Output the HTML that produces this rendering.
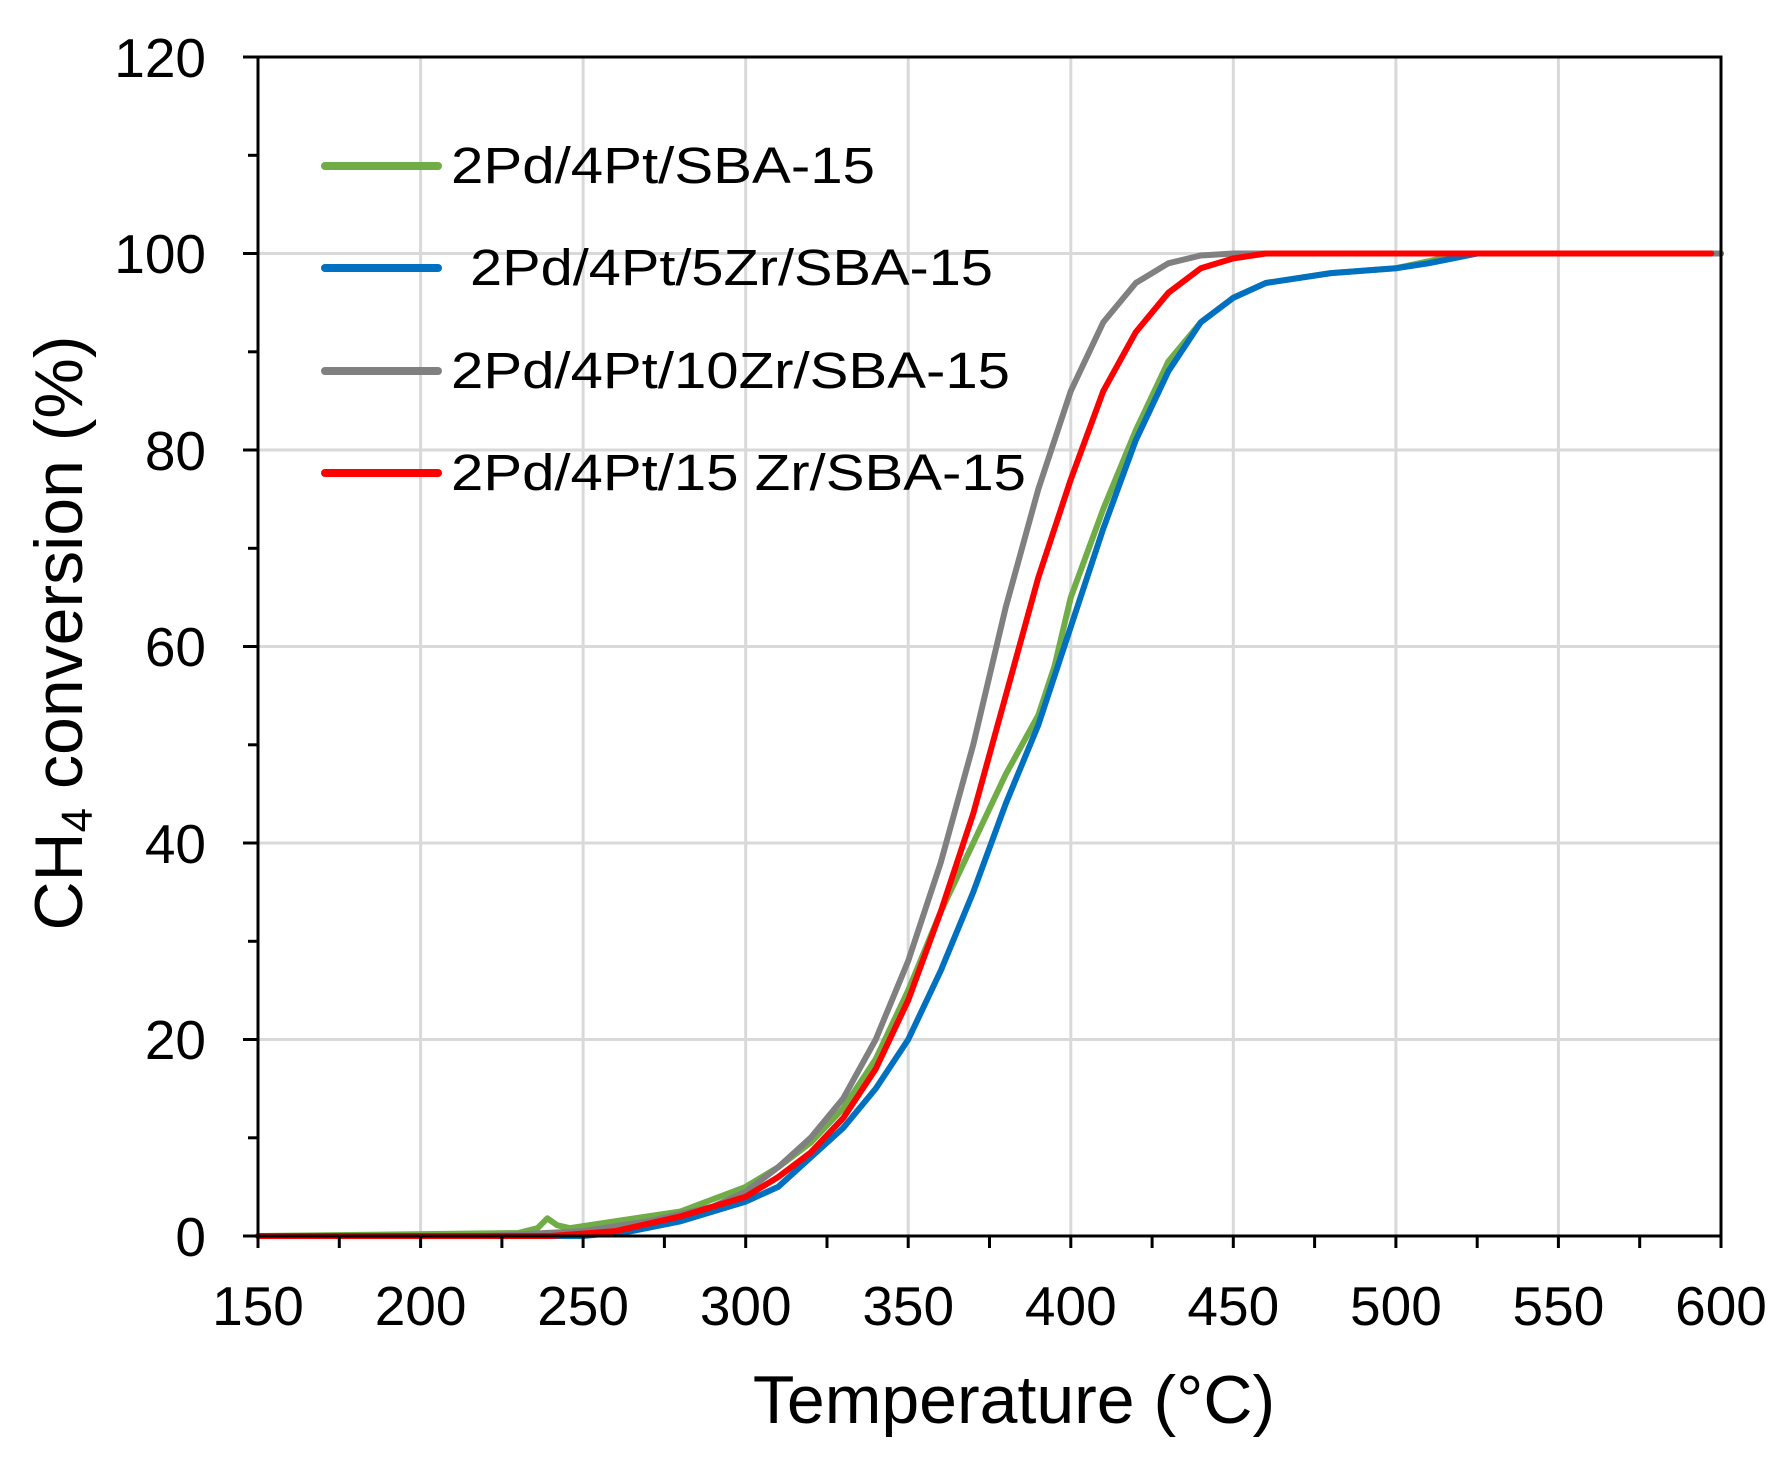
<!DOCTYPE html>
<html><head><meta charset="utf-8"><style>
html,body{margin:0;padding:0;background:#fff;}
svg{display:block;font-family:"Liberation Sans",Arial,sans-serif;}
</style></head><body>
<svg width="1791" height="1464" viewBox="0 0 1791 1464" xmlns="http://www.w3.org/2000/svg">
<rect width="1791" height="1464" fill="#fff"/>
<g stroke="#d9d9d9" stroke-width="3">
<line x1="420.6" y1="57" x2="420.6" y2="1236"/>
<line x1="583.1" y1="57" x2="583.1" y2="1236"/>
<line x1="745.7" y1="57" x2="745.7" y2="1236"/>
<line x1="908.2" y1="57" x2="908.2" y2="1236"/>
<line x1="1070.8" y1="57" x2="1070.8" y2="1236"/>
<line x1="1233.3" y1="57" x2="1233.3" y2="1236"/>
<line x1="1395.9" y1="57" x2="1395.9" y2="1236"/>
<line x1="1558.4" y1="57" x2="1558.4" y2="1236"/>
<line x1="258" y1="1039.5" x2="1721" y2="1039.5"/>
<line x1="258" y1="843" x2="1721" y2="843"/>
<line x1="258" y1="646.5" x2="1721" y2="646.5"/>
<line x1="258" y1="450" x2="1721" y2="450"/>
<line x1="258" y1="253.5" x2="1721" y2="253.5"/>
</g>
<g transform="translate(258,1236) scale(3.2511,-9.825) translate(-150,0)" fill="none" stroke-width="6" stroke-linejoin="round" stroke-linecap="round">
<polyline vector-effect="non-scaling-stroke" stroke="#70ad47" points="150,0 230,0.3 236,0.8 239,1.8 242,1.1 246,0.8 260,1.5 280,2.5 300,5 310,7 320,9.5 330,13 340,18 350,25 360,33 370,40 380,47 390,53 395,58 400,65 410,74 420,82 430,89 440,93 450,95.5 460,97 480,98 500,98.5 510,99.2 520,100 600,100"/>
<polyline vector-effect="non-scaling-stroke" stroke="#0070c0" points="185,0 250,0 265,0.5 280,1.5 300,3.5 310,5 320,8 330,11 340,15 350,20 360,27 370,35 380,44 390,52 400,62 410,72 420,81 430,88 440,93 450,95.5 460,97 480,98 500,98.5 510,99 525,100 600,100"/>
<polyline vector-effect="non-scaling-stroke" stroke="#808080" points="150,0 220,0 250,0.5 270,1.5 290,3 300,4.5 310,7 320,10 330,14 340,20 350,28 360,38 370,50 380,64 390,76 400,86 410,93 420,97 430,99 440,99.8 450,100 600,100"/>
<polyline vector-effect="non-scaling-stroke" stroke="#ff0000" points="150,0 240,0 260,0.5 280,2 300,4 310,6 320,8.5 330,12 340,17 350,24 360,33 370,43 380,55 390,67 400,77 410,86 420,92 430,96 440,98.5 450,99.5 460,100 597,100"/>
</g>
<g stroke="#000" stroke-width="3" fill="none">
<polyline points="243,57 1721,57 1721,1248"/>
<line x1="258" y1="57" x2="258" y2="1248"/>
<line x1="243" y1="1236" x2="1721" y2="1236"/>
<line x1="243" y1="1039.5" x2="258" y2="1039.5"/><line x1="243" y1="843" x2="258" y2="843"/>
<line x1="243" y1="646.5" x2="258" y2="646.5"/><line x1="243" y1="450" x2="258" y2="450"/>
<line x1="243" y1="253.5" x2="258" y2="253.5"/>
<line x1="248" y1="1137.8" x2="258" y2="1137.8"/><line x1="248" y1="941.3" x2="258" y2="941.3"/>
<line x1="248" y1="744.8" x2="258" y2="744.8"/><line x1="248" y1="548.3" x2="258" y2="548.3"/>
<line x1="248" y1="351.8" x2="258" y2="351.8"/><line x1="248" y1="155.3" x2="258" y2="155.3"/>
<line x1="420.6" y1="1236" x2="420.6" y2="1248"/><line x1="583.1" y1="1236" x2="583.1" y2="1248"/>
<line x1="745.7" y1="1236" x2="745.7" y2="1248"/><line x1="908.2" y1="1236" x2="908.2" y2="1248"/>
<line x1="1070.8" y1="1236" x2="1070.8" y2="1248"/><line x1="1233.3" y1="1236" x2="1233.3" y2="1248"/>
<line x1="1395.9" y1="1236" x2="1395.9" y2="1248"/><line x1="1558.4" y1="1236" x2="1558.4" y2="1248"/>
<line x1="339.3" y1="1236" x2="339.3" y2="1248"/><line x1="501.9" y1="1236" x2="501.9" y2="1248"/>
<line x1="664.4" y1="1236" x2="664.4" y2="1248"/><line x1="827" y1="1236" x2="827" y2="1248"/>
<line x1="989.5" y1="1236" x2="989.5" y2="1248"/><line x1="1152.1" y1="1236" x2="1152.1" y2="1248"/>
<line x1="1314.6" y1="1236" x2="1314.6" y2="1248"/><line x1="1477.2" y1="1236" x2="1477.2" y2="1248"/>
<line x1="1639.7" y1="1236" x2="1639.7" y2="1248"/>
</g>
<g font-size="55" fill="#000" text-anchor="end">
<text x="206" y="1256">0</text><text x="206" y="1059">20</text><text x="206" y="863">40</text>
<text x="206" y="666">60</text><text x="206" y="470">80</text><text x="206" y="273">100</text>
<text x="206" y="77">120</text>
</g>
<g font-size="55" fill="#000" text-anchor="middle">
<text x="258" y="1325">150</text><text x="420.6" y="1325">200</text><text x="583.1" y="1325">250</text>
<text x="745.7" y="1325">300</text><text x="908.2" y="1325">350</text><text x="1070.8" y="1325">400</text>
<text x="1233.3" y="1325">450</text><text x="1395.9" y="1325">500</text><text x="1558.4" y="1325">550</text>
<text x="1721" y="1325">600</text>
</g>
<text x="1014" y="1423" font-size="68" text-anchor="middle" fill="#000">Temperature (°C)</text>
<text transform="translate(82,633) rotate(-90)" font-size="68" text-anchor="middle" fill="#000">CH<tspan font-size="44" dy="10">4</tspan><tspan dy="-10"> conversion (%)</tspan></text>
<g stroke-width="8" stroke-linecap="round">
<line x1="325" y1="166" x2="438" y2="166" stroke="#70ad47"/>
<line x1="325" y1="268" x2="438" y2="268" stroke="#0070c0"/>
<line x1="325" y1="371" x2="438" y2="371" stroke="#808080"/>
<line x1="325" y1="473" x2="438" y2="473" stroke="#ff0000"/>
</g>
<g font-size="51" fill="#000">
<text x="451" y="183" textLength="424" lengthAdjust="spacingAndGlyphs">2Pd/4Pt/SBA-15</text>
<text x="470" y="285" textLength="523" lengthAdjust="spacingAndGlyphs">2Pd/4Pt/5Zr/SBA-15</text>
<text x="451" y="388" textLength="559" lengthAdjust="spacingAndGlyphs">2Pd/4Pt/10Zr/SBA-15</text>
<text x="451" y="490" textLength="575" lengthAdjust="spacingAndGlyphs">2Pd/4Pt/15 Zr/SBA-15</text>
</g>
</svg>
</body></html>
